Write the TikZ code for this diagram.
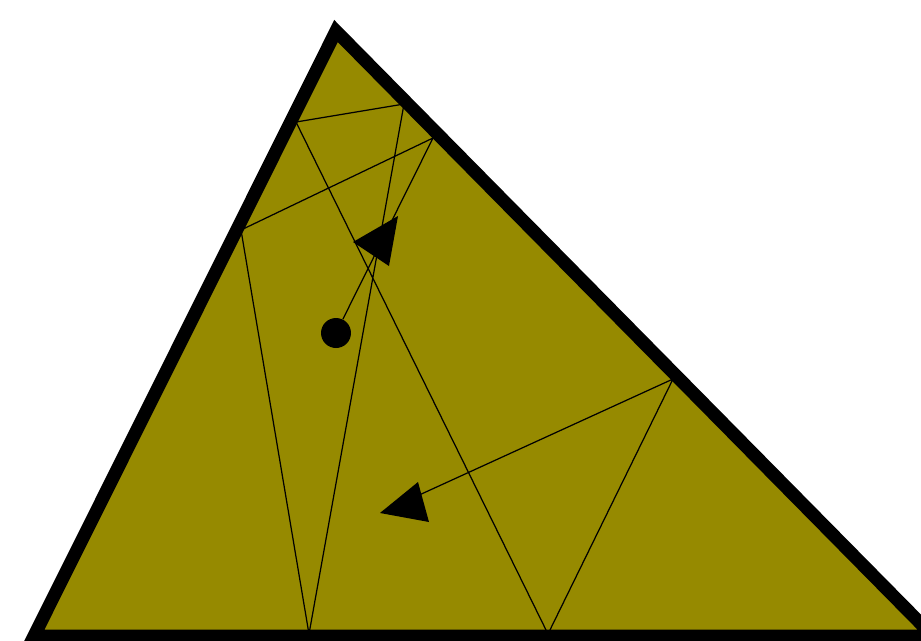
\documentclass[tikz,border=0pt]{standalone}
\definecolor{felt}{RGB}{150, 138, 0}
\usepackage{tikz}
\usetikzlibrary{calc}

\tikzset{
    cushion/.style={line width=7.4pt, line join=miter},
    track/.style={line width=0.7pt},
    arrowhead/.style={fill=black}
}

\begin{document}
\begin{tikzpicture}[x=0.02cm, y=-0.02cm]
        \useasboundingbox (0,0) rectangle (921,640);
        \clip (0,0) rectangle (921,640);

        % Table corners
        \coordinate (apex) at (336,31);
        \coordinate (cornerL) at (34,636);
        \coordinate (cornerR) at (933,636);
        \fill[felt] (apex) -- (cornerL) -- (cornerR) -- cycle;

        % Bounce points
        \coordinate (b1) at (433,138);
        \coordinate (b2) at (241,230);
        \coordinate (b3) at (309,634);
        \coordinate (b4) at (404,104);
        \coordinate (b5) at (296,122);
        \coordinate (b6) at (548,634);
        \coordinate (b7) at (673,379);
        \coordinate (stop) at (382,512);

        % Ball and its path
        \node[circle, fill=black, inner sep=0pt, minimum size=0.6cm] (ball) at (336,333) {};
        \draw[track] (ball) -- (b1) -- (b2) -- (b3) -- (b4) -- (b5) -- (b6) -- (b7) -- (stop);

        % Cushions
        \draw[cushion] (apex) -- (cornerL) -- (cornerR) -- cycle;

        % Direction marks
        \fill[arrowhead] (398,216) -- (353,242) -- (389,266) -- cycle;
        \fill[arrowhead] (380,513) -- (418,482) -- (429,522) -- cycle;
    \end{tikzpicture}
\end{document}
